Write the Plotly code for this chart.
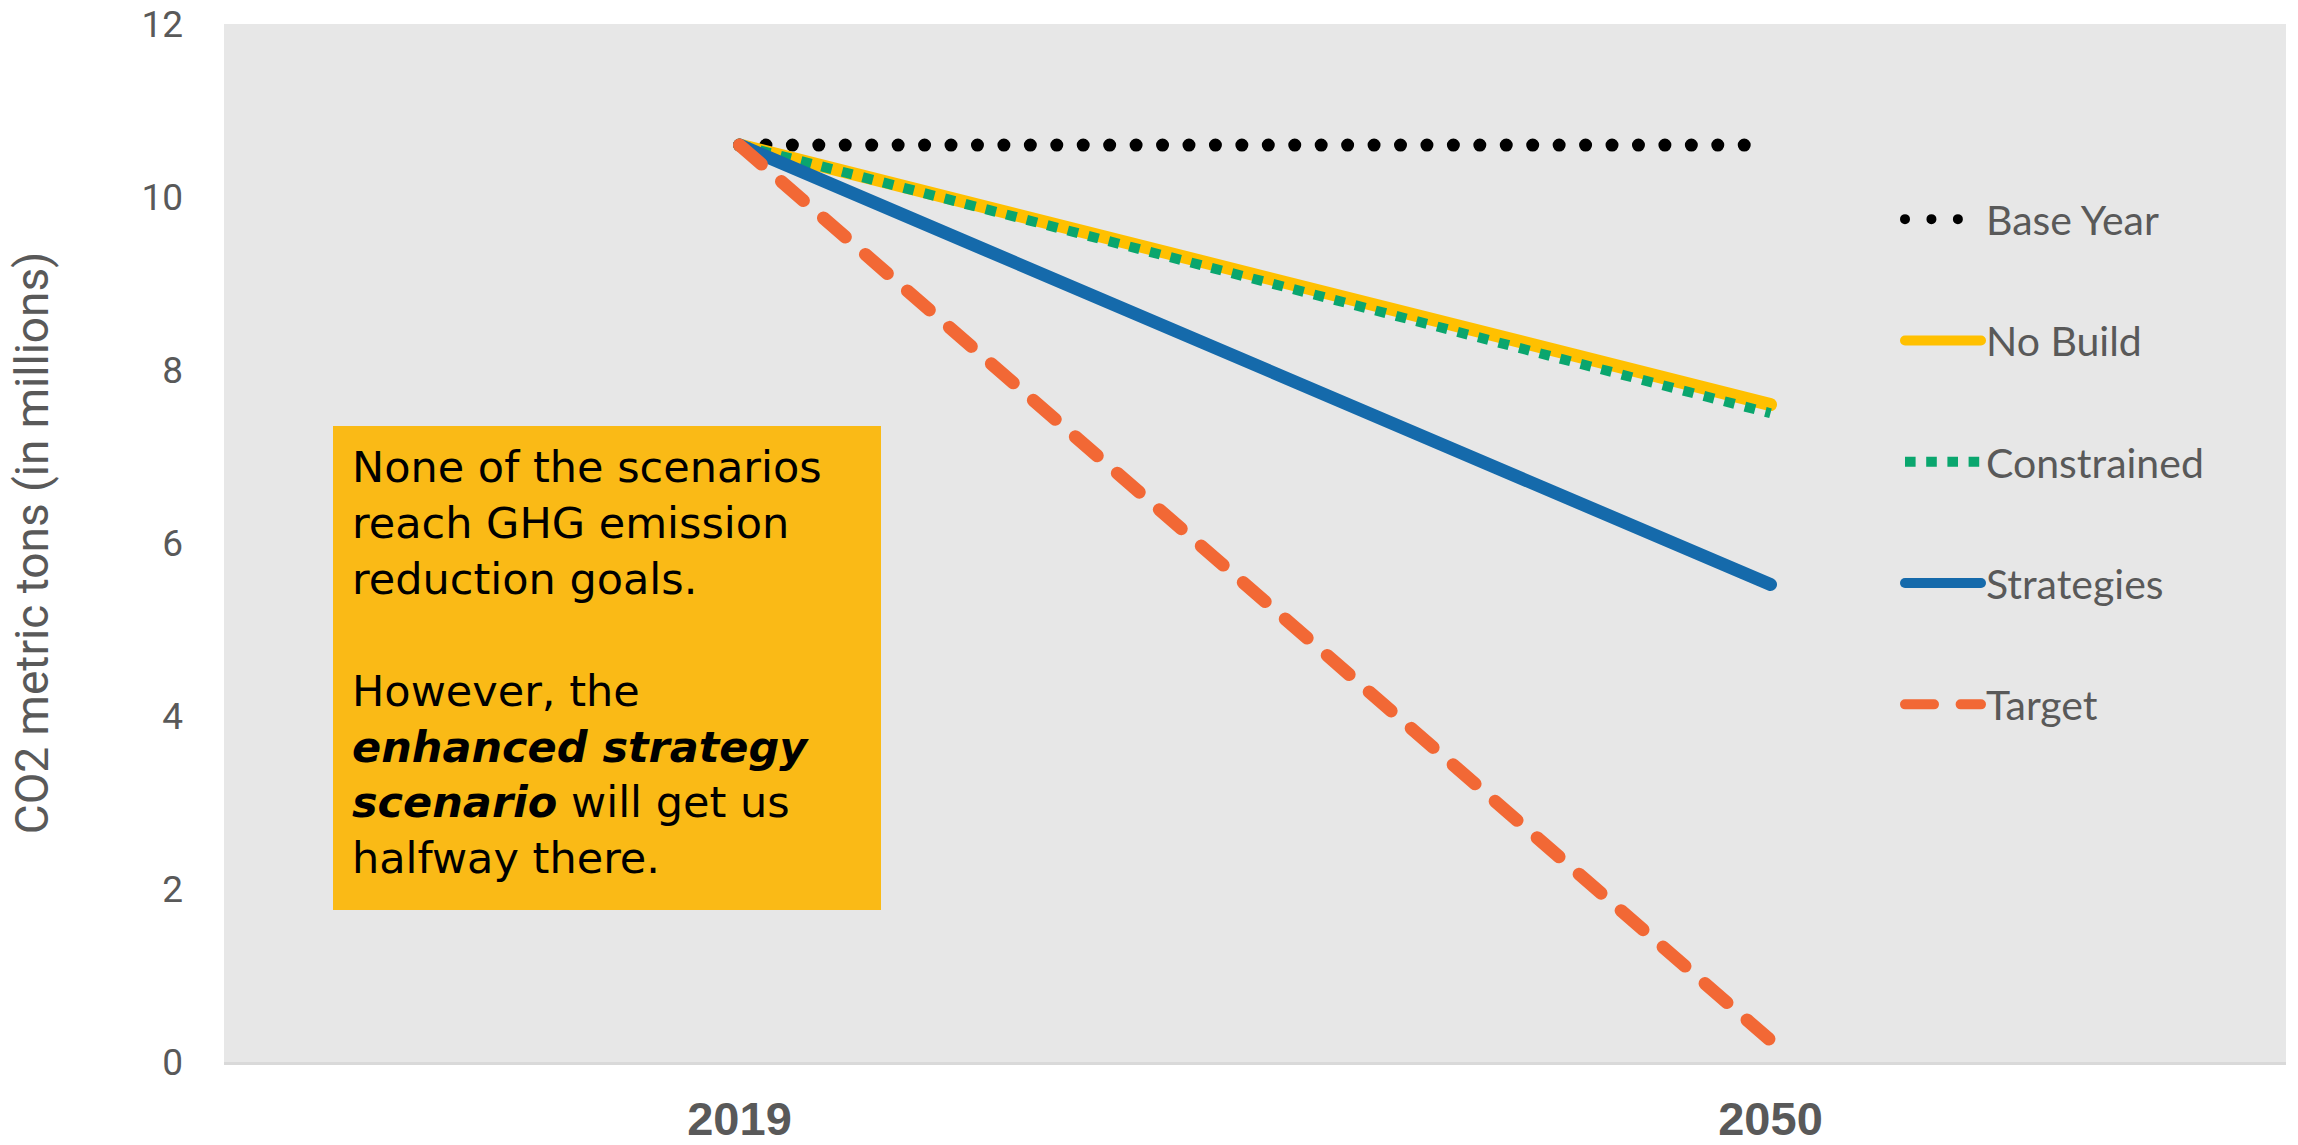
import plotly.graph_objects as go

# ---- data ----
years = ["2019", "2050"]
series_names = ["Base Year", "No Build", "Constrained", "Strategies", "Target"]
base_year = [10.6, 10.6]
no_build = [10.6, 7.6]
constrained = [10.6, 7.5]
strategies = [10.6, 5.52]
target = [10.6, 0.25]
y_ticks = [0, 2, 4, 6, 8, 10, 12]

series_values = [base_year, no_build, constrained, strategies, target]
colors = ["#000000", "#FFC000", "#0AA66E", "#156AAB", "#F26835"]
widths = [13, 13, 10, 13, 13]
dashes = ["0px,26.44px", "solid", "10.6px,10.6px", "solid", "29px,26.6px"]

W, H = 2298, 1145
L, R, T, B = 224, 12, 24, 83
pw = W - L - R
ph = H - T - B

fig = go.Figure()
for i, (name, vals) in enumerate(zip(series_names, series_values)):
    fig.add_trace(go.Scatter(
        x=years, y=vals, name=name, mode="lines",
        line=dict(color=colors[i], width=widths[i], dash=dashes[i]),
        legendgroup=name, hoverinfo="skip",
    ))

note = ("None of the scenarios<br>reach GHG emission<br>reduction goals.<br><br>"
        "However, the<br><b><i>enhanced strategy</i></b><br>"
        "<b><i>scenario</i></b> will get us<br>halfway there.")

box_left, box_top, box_right, box_bottom = 333, 426, 881, 910
fig.add_shape(
    type="rect", xref="paper", yref="paper",
    x0=(box_left - L) / pw, x1=(box_right - L) / pw,
    y0=(H - B - box_bottom) / ph, y1=(H - B - box_top) / ph,
    fillcolor="#FABA16", line=dict(width=0), layer="above",
)
fig.add_annotation(
    xref="paper", yref="paper",
    x=(350 - L) / pw, y=(H - B - (box_top + box_bottom) / 2 + 5) / ph,
    xanchor="left", yanchor="middle",
    text=note, showarrow=False, align="left",
    font=dict(family="DejaVu Sans, Open Sans, sans-serif", size=43, color="#000000"),
)

fig.update_layout(
    width=W, height=H, autosize=False,
    margin=dict(l=L, r=R, t=T, b=B, pad=0, autoexpand=False),
    paper_bgcolor="#FFFFFF", plot_bgcolor="#E7E7E7",
    showlegend=True,
    legend=dict(
        x=(1900 - L) / pw, xanchor="left",
        y=1 - (186 - T) / ph, yanchor="top",
        bgcolor="rgba(0,0,0,0)", borderwidth=0,
        font=dict(family="Lato, Open Sans, sans-serif", size=41, color="#595959"),
        tracegroupgap=65, itemwidth=76, itemclick=False, itemdoubleclick=False,
    ),
    xaxis=dict(
        type="category", range=[-0.5, 1.5], automargin=False,
        showgrid=False, zeroline=False, showline=True, linecolor="#D9D9D9", linewidth=3,
        ticks="", ticklabelstandoff=14,
        tickfont=dict(family="Liberation Sans, Arial, sans-serif", size=47, color="#595959", weight="bold"),
    ),
    yaxis=dict(
        range=[0, 12], tickvals=y_ticks, automargin=False,
        showgrid=False, zeroline=False, showline=False,
        ticks="", ticklabelstandoff=40,
        tickfont=dict(family="Roboto, sans-serif", size=37, color="#595959"),
        title=dict(text="CO2 metric tons (in millions)", standoff=78,
                   font=dict(family="Roboto, sans-serif", size=46, color="#595959")),
    ),
)

post = """
document.body.style.margin = '0';
document.documentElement.style.overflow = 'hidden';
var gd = document.getElementById('{plot_id}');
function fixLines(){
  gd.querySelectorAll('path.js-line').forEach(function(p){
    var s = (p.style.stroke || '').replace(/\\s/g,'');
    if (s.indexOf('10,166,110') >= 0) { p.style.strokeLinecap = 'butt'; }
    else { p.style.strokeLinecap = 'round'; }
  });
}
fixLines();
if (gd.on) { gd.on('plotly_afterplot', fixLines); }
"""

fig.write_html("out.html", config={"displayModeBar": False}, post_script=post)
